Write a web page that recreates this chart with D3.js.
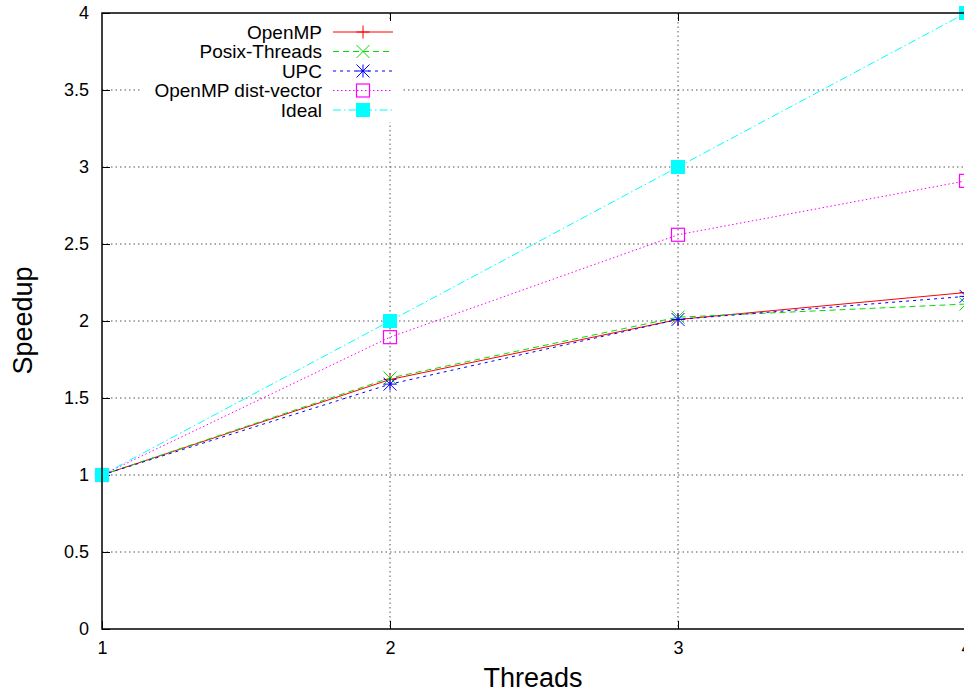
<!DOCTYPE html>
<html><head><meta charset="utf-8">
<script src="https://cdn.jsdelivr.net/npm/d3@7"></script>
<style>body{margin:0;background:#fff}svg{display:block;font-family:"Liberation Sans",Arial,sans-serif}</style>
</head><body><svg id="c" width="964" height="690"></svg>
<script>
const threads = [1, 2, 3, 4];
const openmp = [1, 1.62, 2.01, 2.185];
const posix = [1, 1.63, 2.025, 2.11];
const upc = [1, 1.59, 2.01, 2.16];
const distVector = [1, 1.895, 2.56, 2.91];
const ideal = [1, 2, 3, 4];
const yTicks = [0, 0.5, 1, 1.5, 2, 2.5, 3, 3.5, 4];
const xTicks = [1, 2, 3, 4];
const seriesNames = ["OpenMP", "Posix-Threads", "UPC", "OpenMP dist-vector", "Ideal"];

const series = [
  {name: seriesNames[0], values: openmp, color: "#ff0000", dash: null, marker: "plus"},
  {name: seriesNames[1], values: posix, color: "#00e000", dash: "6,4", marker: "cross"},
  {name: seriesNames[2], values: upc, color: "#0000ff", dash: "3,4", marker: "star"},
  {name: seriesNames[3], values: distVector, color: "#ff00ff", dash: "1.5,2.5", marker: "box"},
  {name: seriesNames[4], values: ideal, color: "#00ffff", dash: "8,3,1.5,3", marker: "fbox"}
];

const svg = d3.select("#c");
const L = 102, R = 966, T = 13, B = 629;
const x = d3.scaleLinear().domain([1, 4]).range([L, R]);
const y = d3.scaleLinear().domain([0, 4]).range([B, T]);

// grid
const grid = svg.append("g");
yTicks.filter(v => v > 0 && v < 4).forEach(v => {
  grid.append("line").attr("x1", L).attr("x2", R).attr("y1", y(v)).attr("y2", y(v))
    .attr("stroke", "#555").attr("stroke-width", 1).attr("stroke-dasharray", "1.5,3");
});
xTicks.filter(v => v > 1 && v < 4).forEach(v => {
  grid.append("line").attr("x1", x(v)).attr("x2", x(v)).attr("y1", T).attr("y2", B)
    .attr("stroke", "#555").attr("stroke-width", 1).attr("stroke-dasharray", "1.5,3");
});

// legend background (covers grid)
svg.append("rect").attr("x", 140).attr("y", 20).attr("width", 262).attr("height", 102).attr("fill", "#fff");

// axes
const yAxis = d3.axisLeft(y).tickValues(yTicks).tickSize(-8).tickPadding(13).tickFormat(d3.format("~g"));
const gy = svg.append("g").attr("transform", `translate(${L},0)`).call(yAxis);
const xAxis = d3.axisBottom(x).tickValues(xTicks).tickSize(-8).tickPadding(12).tickFormat(d3.format("d"));
const gx = svg.append("g").attr("transform", `translate(0,${B})`).call(xAxis);
const xTop = d3.axisTop(x).tickValues(xTicks.filter(v => v > 1 && v < 4)).tickSize(-8).tickFormat("");
const gxt = svg.append("g").attr("transform", `translate(0,${T})`).call(xTop);
[gy, gx, gxt].forEach(g => {
  g.select(".domain").remove();
  g.selectAll("line").attr("stroke", "#000").attr("stroke-width", 1);
  g.selectAll("text").attr("fill", "#000").style("font-size", "18px").style("font-family", "Liberation Sans, Arial, sans-serif");
});

// series lines
const line = d3.line().x((d, i) => x(threads[i])).y(d => y(d));
function marker(g, type, cx, cy, color) {
  const s = 6.5;
  if (type === "plus") {
    g.append("path").attr("d", `M${cx - s},${cy}H${cx + s}M${cx},${cy - s}V${cy + s}`).attr("stroke", color).attr("stroke-width", 1).attr("fill", "none");
  } else if (type === "cross") {
    g.append("path").attr("d", `M${cx - s},${cy - s}L${cx + s},${cy + s}M${cx - s},${cy + s}L${cx + s},${cy - s}`).attr("stroke", color).attr("stroke-width", 1).attr("fill", "none");
  } else if (type === "star") {
    g.append("path").attr("d", `M${cx - s},${cy}H${cx + s}M${cx},${cy - s}V${cy + s}M${cx - s},${cy - s}L${cx + s},${cy + s}M${cx - s},${cy + s}L${cx + s},${cy - s}`).attr("stroke", color).attr("stroke-width", 1).attr("fill", "none");
  } else if (type === "box") {
    g.append("rect").attr("x", cx - s).attr("y", cy - s).attr("width", 2 * s).attr("height", 2 * s).attr("stroke", color).attr("stroke-width", 1.2).attr("fill", "none");
  } else if (type === "fbox") {
    g.append("rect").attr("x", cx - 7).attr("y", cy - 7).attr("width", 14).attr("height", 14).attr("fill", color);
  }
}

const plot = svg.append("g");
series.forEach(s => {
  const g = plot.append("g");
  g.append("path").datum(s.values).attr("d", line).attr("fill", "none")
    .attr("stroke", s.color).attr("stroke-width", 1).attr("stroke-dasharray", s.dash);
  s.values.forEach((v, i) => marker(g, s.marker, x(threads[i]), y(v), s.color));
});

// legend
const lg = svg.append("g");
series.forEach((s, i) => {
  const ry = 32 + i * 19.5;
  lg.append("text").attr("x", 322).attr("y", ry).attr("dy", "0.35em").attr("text-anchor", "end")
    .style("font-size", "19px").attr("fill", "#000").text(s.name);
  lg.append("line").attr("x1", 333).attr("x2", 393).attr("y1", ry).attr("y2", ry)
    .attr("stroke", s.color).attr("stroke-width", 1).attr("stroke-dasharray", s.dash);
  marker(lg, s.marker, 363, ry, s.color);
});

// frame
svg.append("rect").attr("x", L).attr("y", T).attr("width", R - L).attr("height", B - T)
  .attr("fill", "none").attr("stroke", "#000").attr("stroke-width", 1.5);

// axis titles
svg.append("text").attr("x", 533).attr("y", 687).attr("text-anchor", "middle")
  .style("font-size", "27px").attr("fill", "#000").text("Threads");
svg.append("text").attr("transform", "translate(31.5,320.5) rotate(-90)").attr("text-anchor", "middle")
  .style("font-size", "27px").attr("fill", "#000").text("Speedup");
</script></body></html>
